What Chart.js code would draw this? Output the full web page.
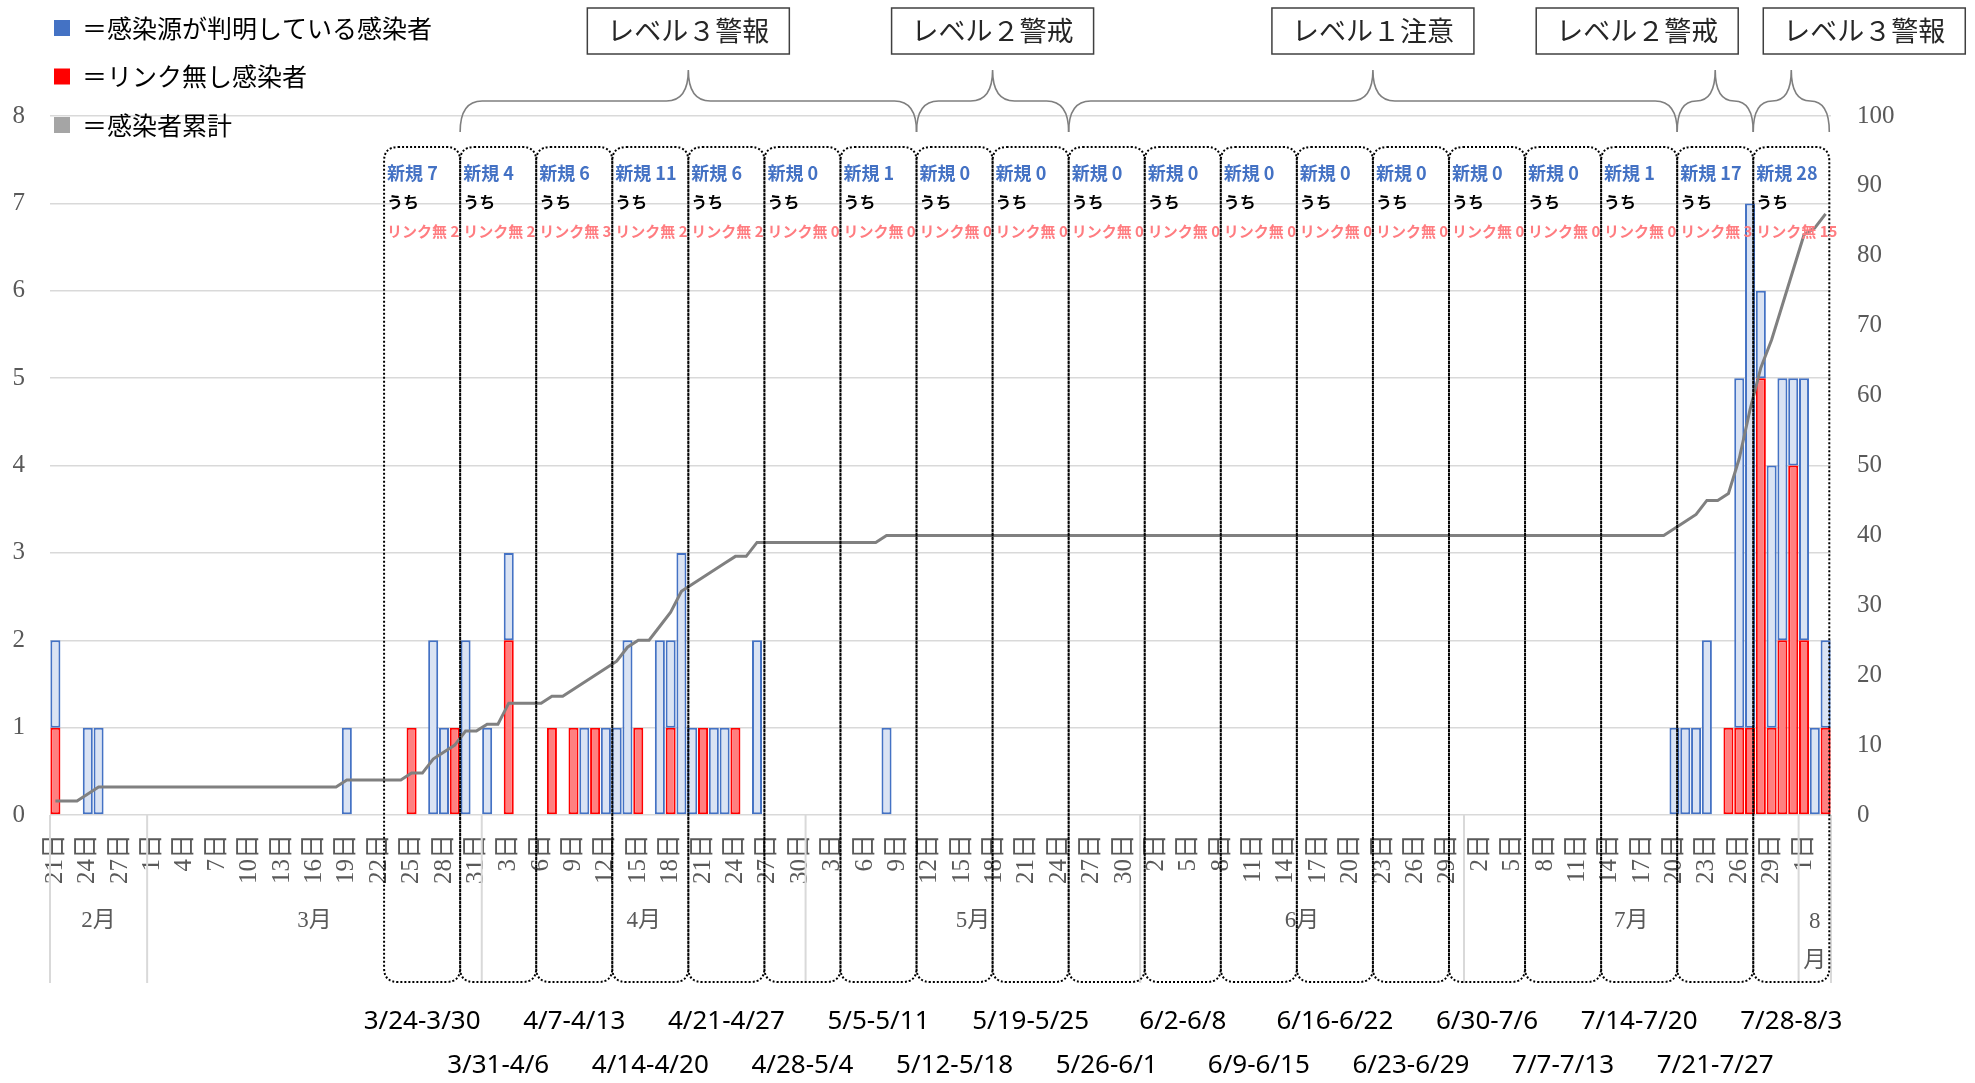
<!DOCTYPE html>
<html lang="ja">
<head>
<meta charset="utf-8">
<title>感染者数の推移</title>
<script src="https://cdn.jsdelivr.net/npm/chart.js@4.4.1/dist/chart.umd.min.js"></script>
<style>
  html, body { margin: 0; padding: 0; background: #fff; }
  #wrap { width: 1975px; height: 1083px; position: relative; }
</style>
</head>
<body>
<div id="wrap"><canvas id="chart"></canvas></div>
<script>
// 期間 2020/2/21 - 8/3
const monthNums = [2, 3, 4, 5, 6, 7, 8];
const monthFirstDay = [21, 1, 1, 1, 1, 1, 1];
const monthLastDay = [29, 31, 30, 31, 30, 31, 3];

// リンク無し感染者 (日別)
const unlinked = [
  1,0,0,0,0,0,0,0,0,                                                        // 2月
  0,0,0,0,0,0,0,0,0,0, 0,0,0,0,0,0,0,0,0,0, 0,0,0,0,1,0,0,0,1,0, 0,         // 3月
  0,0,2,0,0,0,1,0,1,0, 1,0,0,0,1,0,0,1,0,0, 1,0,0,1,0,0,0,0,0,0,            // 4月
  0,0,0,0,0,0,0,0,0,0, 0,0,0,0,0,0,0,0,0,0, 0,0,0,0,0,0,0,0,0,0, 0,         // 5月
  0,0,0,0,0,0,0,0,0,0, 0,0,0,0,0,0,0,0,0,0, 0,0,0,0,0,0,0,0,0,0,            // 6月
  0,0,0,0,0,0,0,0,0,0, 0,0,0,0,0,0,0,0,0,0, 0,0,0,0,1,1,1,5,1,2, 4,         // 7月
  2,0,1                                                                     // 8月
];

// 感染源が判明している感染者 (日別)
const known = [
  1,0,0,1,1,0,0,0,0,
  0,0,0,0,0,0,0,0,0,0, 0,0,0,0,0,0,0,0,1,0, 0,0,0,0,0,0,2,1,0,2, 0,
  1,0,1,0,0,0,0,0,0,1, 0,1,1,2,0,0,2,1,3,1, 0,1,1,0,0,2,0,0,0,0,
  0,0,0,0,0,0,0,1,0,0, 0,0,0,0,0,0,0,0,0,0, 0,0,0,0,0,0,0,0,0,0, 0,
  0,0,0,0,0,0,0,0,0,0, 0,0,0,0,0,0,0,0,0,0, 0,0,0,0,0,0,0,0,0,0,
  0,0,0,0,0,0,0,0,0,0, 0,0,0,0,0,0,0,0,0,1, 1,1,2,0,0,4,6,1,3,3, 1,
  3,1,1
];

// 感染者累計
const cumulative = [
  2,2,2,3,4,4,4,4,4,
  4,4,4,4,4,4,4,4,4,4, 4,4,4,4,4,4,4,4,5,5, 5,5,5,5,6,6,8,9,10,12, 12,
  13,13,16,16,16,16,17,17,18,19, 20,21,22,24,25,25,27,29,32,33, 34,35,36,37,37,39,39,39,39,39,
  39,39,39,39,39,39,39,40,40,40, 40,40,40,40,40,40,40,40,40,40, 40,40,40,40,40,40,40,40,40,40, 40,
  40,40,40,40,40,40,40,40,40,40, 40,40,40,40,40,40,40,40,40,40, 40,40,40,40,40,40,40,40,40,40,
  40,40,40,40,40,40,40,40,40,40, 40,40,40,40,40,40,40,40,40,41, 42,43,45,45,46,51,58,64,68,73, 78,
  83,84,86
];

// 週ごとの集計
const weekRanges = ['3/24-3/30','3/31-4/6','4/7-4/13','4/14-4/20','4/21-4/27','4/28-5/4','5/5-5/11',
  '5/12-5/18','5/19-5/25','5/26-6/1','6/2-6/8','6/9-6/15','6/16-6/22','6/23-6/29','6/30-7/6',
  '7/7-7/13','7/14-7/20','7/21-7/27','7/28-8/3'];
const weekNew = [7,4,6,11,6,0,1,0,0,0,0,0,0,0,0,0,1,17,28];
const weekUnlinked = [2,2,3,2,2,0,0,0,0,0,0,0,0,0,0,0,0,3,15];

// 警戒レベル (週の範囲)
const levelNames = ['レベル３警報','レベル２警戒','レベル１注意','レベル２警戒','レベル３警報'];
const levelFromWeek = [1, 7, 9, 17, 18];
const levelToWeek = [7, 9, 17, 18, 19];

const categories = [];
monthNums.forEach((m, i) => {
  for (let d = monthFirstDay[i]; d <= monthLastDay[i]; d++) categories.push(m + '/' + d);
});

const serif = "'Liberation Serif', 'Noto Sans CJK JP', serif";
const jp = "'Noto Sans CJK JP', sans-serif";
const firstWeekIdx = categories.indexOf('3/24');

// 週枠の端 (元の図では枠がやや左にずれている)
function boxEdge(k) {
  return firstWeekIdx - 0.5 + 7 * k - 1.05 + 0.047 * k;
}

function roundBox(ctx, x0, y0, x1, y1, r) {
  ctx.beginPath();
  ctx.moveTo(x0 + r, y0);
  ctx.lineTo(x1 - r, y0);
  ctx.quadraticCurveTo(x1, y0, x1, y0 + r);
  ctx.lineTo(x1, y1 - r);
  ctx.quadraticCurveTo(x1, y1, x1 - r, y1);
  ctx.lineTo(x0 + r, y1);
  ctx.quadraticCurveTo(x0, y1, x0, y1 - r);
  ctx.lineTo(x0, y0 + r);
  ctx.quadraticCurveTo(x0, y0, x0 + r, y0);
  ctx.closePath();
}

function brace(ctx, x1, x2, yt, ym, yb) {
  const xc = (x1 + x2) / 2;
  const r = Math.min(22, (x2 - x1) / 4);
  ctx.beginPath();
  ctx.moveTo(x1, yb);
  ctx.quadraticCurveTo(x1, ym, x1 + r, ym);
  ctx.lineTo(xc - r, ym);
  ctx.quadraticCurveTo(xc, ym, xc, yt);
  ctx.moveTo(x2, yb);
  ctx.quadraticCurveTo(x2, ym, x2 - r, ym);
  ctx.lineTo(xc + r, ym);
  ctx.quadraticCurveTo(xc, ym, xc, yt);
  ctx.stroke();
}

const decor = {
  id: 'decor',
  beforeDraw(chart) {
    const ctx = chart.ctx;
    ctx.save();
    ctx.fillStyle = '#fff';
    ctx.fillRect(0, 0, chart.width, chart.height);
    ctx.restore();
  },
  afterDraw(chart) {
    const { ctx, chartArea } = chart;
    const x = chart.scales.x;
    const px = v => x.getPixelForValue(v);
    ctx.save();

    // 月の区切りとラベル
    const sepBottom = chartArea.bottom + 168;
    ctx.strokeStyle = '#D9D9D9';
    ctx.lineWidth = 2;
    monthNums.forEach((m, i) => {
      const s = categories.indexOf(m + '/' + monthFirstDay[i]);
      const e = categories.indexOf(m + '/' + monthLastDay[i]);
      const xa = px(s - 0.5), xb = px(e + 0.5);
      ctx.beginPath();
      ctx.moveTo(xa, chartArea.bottom); ctx.lineTo(xa, sepBottom);
      if (i === monthNums.length - 1) { ctx.moveTo(xb, chartArea.bottom); ctx.lineTo(xb, sepBottom); }
      ctx.stroke();
      ctx.fillStyle = '#595959';
      ctx.font = '23px ' + serif;
      ctx.textAlign = 'center';
      ctx.textBaseline = 'middle';
      const label = m + '月';
      const cx = (xa + xb) / 2;
      if (ctx.measureText(label).width > xb - xa - 4) {
        ctx.fillText(String(m), cx, chartArea.bottom + 107);
        ctx.fillText('月', cx, chartArea.bottom + 146);
      } else {
        ctx.fillText(label, cx, chartArea.bottom + 106);
      }
    });

    // 週ごとの枠
    const top = chartArea.top + 31, bottom = chartArea.bottom + 167;
    weekRanges.forEach((w, k) => {
      const x0 = px(boxEdge(k)), x1 = px(boxEdge(k + 1));
      ctx.setLineDash([2, 2]);
      ctx.strokeStyle = '#000';
      ctx.lineWidth = 2;
      roundBox(ctx, x0, top, x1, bottom, 14);
      ctx.stroke();
      ctx.setLineDash([]);
      ctx.textAlign = 'left';
      ctx.textBaseline = 'middle';
      ctx.font = 'bold 18px ' + jp;
      ctx.fillStyle = '#4472C4';
      ctx.fillText('新規 ' + weekNew[k], x0 + 3, top + 26);
      ctx.font = 'bold 16px ' + jp;
      ctx.fillStyle = '#000';
      ctx.fillText('うち', x0 + 3, top + 55);
      ctx.font = 'bold 15px ' + jp;
      ctx.fillStyle = '#FF7C80';
      ctx.fillText('リンク無 ' + weekUnlinked[k], x0 + 3, top + 84);
      ctx.fillStyle = '#000';
      ctx.font = "26px 'Noto Sans', sans-serif";
      ctx.textAlign = 'center';
      ctx.fillText(w, (x0 + x1) / 2, k % 2 === 0 ? bottom + 40 : bottom + 84);
    });

    // 警戒レベルの括弧と枠
    const boxShift = [0, 0, 0, -78, 73];
    levelNames.forEach((name, i) => {
      const x1 = px(boxEdge(levelFromWeek[i])), x2 = px(boxEdge(levelToWeek[i]));
      ctx.strokeStyle = '#7F7F7F';
      ctx.lineWidth = 1.6;
      brace(ctx, x1, x2, 70, 101, 132);
      const cx = (x1 + x2) / 2 + boxShift[i];
      ctx.fillStyle = '#fff';
      ctx.fillRect(cx - 101, 8, 202, 46);
      ctx.strokeStyle = '#404040';
      ctx.lineWidth = 1.5;
      ctx.strokeRect(cx - 101, 8, 202, 46);
      ctx.fillStyle = '#262626';
      ctx.font = '27px ' + jp;
      ctx.textAlign = 'center';
      ctx.textBaseline = 'middle';
      ctx.fillText(name, cx, 31);
    });

    // 凡例
    const legendItems = [
      ['＝感染源が判明している感染者', '#4472C4'],
      ['＝リンク無し感染者', '#FF0000'],
      ['＝感染者累計', '#A5A5A5']
    ];
    legendItems.forEach(([text, color], i) => {
      const y = 28 + i * 48.5;
      ctx.fillStyle = color;
      ctx.fillRect(54, y - 8, 16, 16);
      ctx.fillStyle = '#000';
      ctx.font = '25px ' + jp;
      ctx.textAlign = 'left';
      ctx.textBaseline = 'middle';
      ctx.fillText(text, 82, y);
    });
    ctx.restore();
  }
};

new Chart(document.getElementById('chart'), {
  type: 'bar',
  data: {
    labels: categories,
    datasets: [
      {
        label: 'リンク無し感染者',
        data: unlinked,
        backgroundColor: '#FF8080',
        borderColor: '#FF0000',
        borderWidth: 2,
        borderSkipped: false,
        yAxisID: 'y',
        stack: 'cases',
        order: 1,
        barPercentage: 0.93,
        categoryPercentage: 1
      },
      {
        label: '感染源が判明している感染者',
        data: known,
        backgroundColor: '#DAE3F3',
        borderColor: '#4472C4',
        borderWidth: 2,
        borderSkipped: false,
        yAxisID: 'y',
        stack: 'cases',
        order: 1,
        barPercentage: 0.93,
        categoryPercentage: 1
      },
      {
        type: 'line',
        label: '感染者累計',
        data: cumulative,
        borderColor: '#808080',
        borderWidth: 3,
        pointRadius: 0,
        tension: 0,
        yAxisID: 'y1',
        order: 0
      }
    ]
  },
  options: {
    responsive: true,
    maintainAspectRatio: false,
    animation: false,
    layout: { padding: { top: 116, left: 0, right: 0, bottom: 0 } },
    plugins: { legend: { display: false }, tooltip: { enabled: false } },
    scales: {
      x: {
        stacked: true,
        grid: { display: false, drawTicks: false },
        border: { display: false },
        ticks: {
          autoSkip: false,
          minRotation: 90,
          maxRotation: 90,
          padding: 19,
          color: '#595959',
          font: { family: serif, size: 25 },
          callback: (v, i) => i % 3 === 0 ? categories[i].split('/')[1] + '日' : ''
        },
        afterFit: s => { s.height = 268; }
      },
      y: {
        stacked: true,
        min: 0,
        max: 8,
        ticks: { stepSize: 1, padding: 25, color: '#595959', font: { family: serif, size: 25 } },
        grid: { color: '#D9D9D9', lineWidth: 1.5, drawTicks: false },
        border: { display: false },
        afterFit: s => { s.width = 50; }
      },
      y1: {
        position: 'right',
        min: 0,
        max: 100,
        ticks: { stepSize: 10, padding: 26, color: '#595959', font: { family: serif, size: 25 } },
        grid: { display: false, drawTicks: false },
        border: { display: false },
        afterFit: s => { s.width = 144; }
      }
    }
  },
  plugins: [decor]
});
</script>
</body>
</html>
